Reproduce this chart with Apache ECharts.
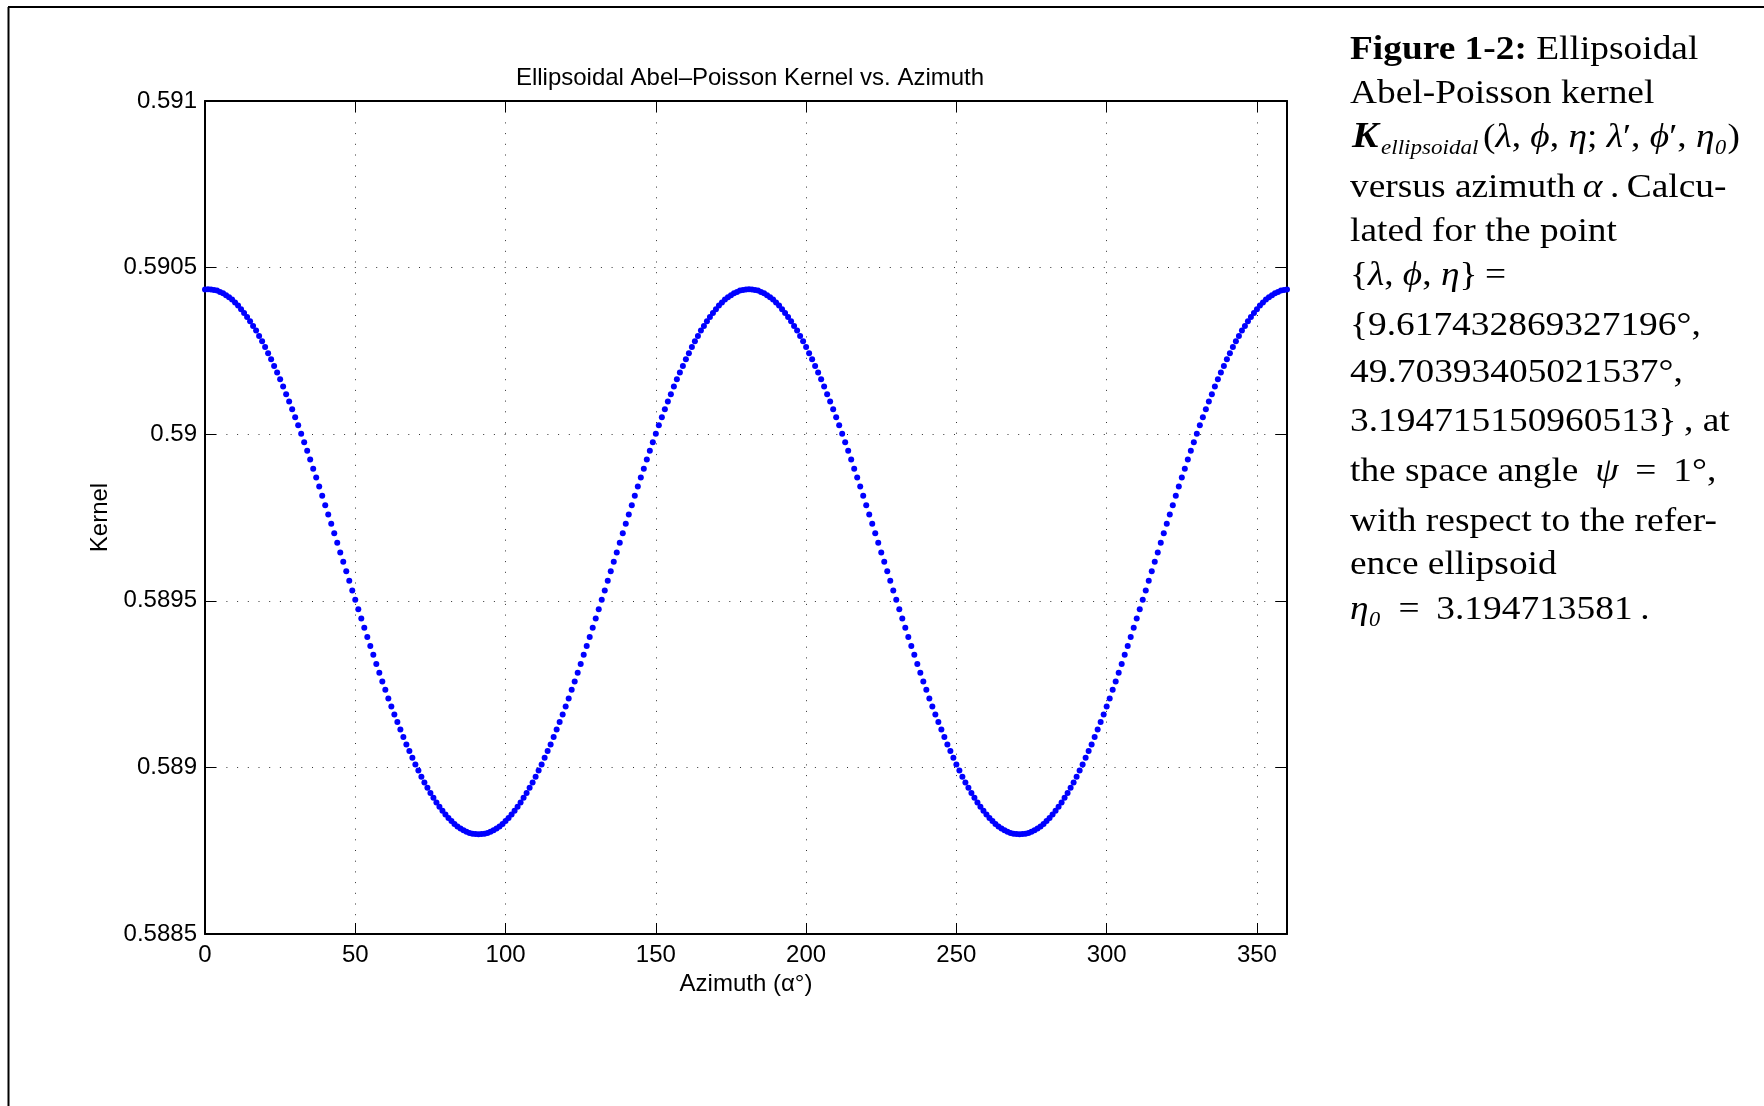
<!DOCTYPE html>
<html>
<head>
<meta charset="utf-8">
<script src="https://cdn.jsdelivr.net/npm/echarts@6/dist/echarts.min.js"></script>
<style>
  html, body { margin: 0; padding: 0; background: #fff; }
  #chart { width: 1764px; height: 1106px; }
</style>
</head>
<body>
<div id="chart"></div>
<script>
// Ellipsoidal Abel–Poisson kernel sampled every degree of azimuth, 0° … 360°
const azimuthStepDeg = 1;
const kernelValues = [
  0.590434, 0.590435, 0.590434, 0.590433, 0.590431, 0.590427, 0.590423, 0.590417, 0.590411, 0.590404,
  0.590395, 0.590386, 0.590375, 0.590364, 0.590352, 0.590339, 0.590325, 0.590311, 0.590295, 0.590279,
  0.590262, 0.590243, 0.590225, 0.590205, 0.590185, 0.590165, 0.590143, 0.590120, 0.590098, 0.590075,
  0.590051, 0.590027, 0.590001, 0.589976, 0.589950, 0.589924, 0.589896, 0.589870, 0.589843, 0.589815,
  0.589787, 0.589759, 0.589731, 0.589703, 0.589674, 0.589645, 0.589617, 0.589589, 0.589560, 0.589531,
  0.589503, 0.589475, 0.589447, 0.589419, 0.589391, 0.589364, 0.589338, 0.589310, 0.589284, 0.589258,
  0.589233, 0.589207, 0.589183, 0.589159, 0.589136, 0.589114, 0.589091, 0.589069, 0.589049, 0.589029,
  0.589009, 0.588991, 0.588972, 0.588955, 0.588939, 0.588923, 0.588909, 0.588895, 0.588882, 0.588870,
  0.588859, 0.588848, 0.588839, 0.588830, 0.588823, 0.588817, 0.588811, 0.588807, 0.588803, 0.588801,
  0.588800, 0.588799, 0.588800, 0.588801, 0.588803, 0.588807, 0.588811, 0.588817, 0.588823, 0.588830,
  0.588839, 0.588848, 0.588859, 0.588870, 0.588882, 0.588895, 0.588909, 0.588923, 0.588939, 0.588955,
  0.588972, 0.588991, 0.589009, 0.589029, 0.589049, 0.589069, 0.589091, 0.589114, 0.589136, 0.589159,
  0.589183, 0.589207, 0.589233, 0.589258, 0.589284, 0.589310, 0.589338, 0.589364, 0.589391, 0.589419,
  0.589447, 0.589475, 0.589503, 0.589531, 0.589560, 0.589589, 0.589617, 0.589645, 0.589674, 0.589703,
  0.589731, 0.589759, 0.589787, 0.589815, 0.589843, 0.589870, 0.589896, 0.589924, 0.589950, 0.589976,
  0.590001, 0.590027, 0.590051, 0.590075, 0.590098, 0.590120, 0.590143, 0.590165, 0.590185, 0.590205,
  0.590225, 0.590243, 0.590262, 0.590279, 0.590295, 0.590311, 0.590325, 0.590339, 0.590352, 0.590364,
  0.590375, 0.590386, 0.590395, 0.590404, 0.590411, 0.590417, 0.590423, 0.590427, 0.590431, 0.590433,
  0.590434, 0.590435, 0.590434, 0.590433, 0.590431, 0.590427, 0.590423, 0.590417, 0.590411, 0.590404,
  0.590395, 0.590386, 0.590375, 0.590364, 0.590352, 0.590339, 0.590325, 0.590311, 0.590295, 0.590279,
  0.590262, 0.590243, 0.590225, 0.590205, 0.590185, 0.590165, 0.590143, 0.590120, 0.590098, 0.590075,
  0.590051, 0.590027, 0.590001, 0.589976, 0.589950, 0.589924, 0.589896, 0.589870, 0.589843, 0.589815,
  0.589787, 0.589759, 0.589731, 0.589703, 0.589674, 0.589645, 0.589617, 0.589589, 0.589560, 0.589531,
  0.589503, 0.589475, 0.589447, 0.589419, 0.589391, 0.589364, 0.589338, 0.589310, 0.589284, 0.589258,
  0.589233, 0.589207, 0.589183, 0.589159, 0.589136, 0.589114, 0.589091, 0.589069, 0.589049, 0.589029,
  0.589009, 0.588991, 0.588972, 0.588955, 0.588939, 0.588923, 0.588909, 0.588895, 0.588882, 0.588870,
  0.588859, 0.588848, 0.588839, 0.588830, 0.588823, 0.588817, 0.588811, 0.588807, 0.588803, 0.588801,
  0.588800, 0.588799, 0.588800, 0.588801, 0.588803, 0.588807, 0.588811, 0.588817, 0.588823, 0.588830,
  0.588839, 0.588848, 0.588859, 0.588870, 0.588882, 0.588895, 0.588909, 0.588923, 0.588939, 0.588955,
  0.588972, 0.588991, 0.589009, 0.589029, 0.589049, 0.589069, 0.589091, 0.589114, 0.589136, 0.589159,
  0.589183, 0.589207, 0.589233, 0.589258, 0.589284, 0.589310, 0.589338, 0.589364, 0.589391, 0.589419,
  0.589447, 0.589475, 0.589503, 0.589531, 0.589560, 0.589589, 0.589617, 0.589645, 0.589674, 0.589703,
  0.589731, 0.589759, 0.589787, 0.589815, 0.589843, 0.589870, 0.589896, 0.589924, 0.589950, 0.589976,
  0.590001, 0.590027, 0.590051, 0.590075, 0.590098, 0.590120, 0.590143, 0.590165, 0.590185, 0.590205,
  0.590225, 0.590243, 0.590262, 0.590279, 0.590295, 0.590311, 0.590325, 0.590339, 0.590352, 0.590364,
  0.590375, 0.590386, 0.590395, 0.590404, 0.590411, 0.590417, 0.590423, 0.590427, 0.590431, 0.590433,
  0.590434
];

// Axis ranges and tick labels
const xRange = [0, 360];
const xTickStep = 50;
const xTickLabels = ['0', '50', '100', '150', '200', '250', '300', '350'];
const yRange = [0.5885, 0.591];
const yTickStep = 0.0005;
const yTickLabels = ['0.5885', '0.589', '0.5895', '0.59', '0.5905', '0.591'];

const chartTitle = 'Ellipsoidal Abel\u2013Poisson Kernel vs. Azimuth';
const xAxisTitle = 'Azimuth (\u03b1\u00b0)';
const yAxisTitle = 'Kernel';

const points = kernelValues.map((k, i) => [i * azimuthStepDeg, k]);

const SANS = 'Liberation Sans, Arial, Helvetica, sans-serif';
const SERIF = 'Liberation Serif, DejaVu Serif, Times New Roman, serif';
const CAP = 34;
const AXIS_FONT = 24;

function xLabel(v) {
  const idx = Math.round(v / xTickStep);
  return (Math.abs(v - idx * xTickStep) < 1e-6 && idx < xTickLabels.length) ? xTickLabels[idx] : '';
}
function yLabel(v) {
  const idx = Math.round((v - yRange[0]) / yTickStep);
  return yTickLabels[idx] || '';
}

const gridLine = { show: true, lineStyle: { color: '#333', width: 1, type: [1, 9.7] } };
const frameLine = { show: true, onZero: false, lineStyle: { color: '#000', width: 2 } };
const innerTick = { show: true, inside: true, length: 11, lineStyle: { color: '#000', width: 1 } };

// caption text, one entry per typeset line
const rich = {
  b: { fontFamily: SERIF, fontSize: CAP, fontWeight: 'bold' },
  i: { fontFamily: SERIF, fontSize: CAP, fontStyle: 'italic' }
};
const captionX = 1348;
const captionScaleX = 1.1;
const captionLines = [
  { y: 50,  t: '{b|Figure 1-2:} Ellipsoidal' },
  { y: 94,  t: 'Abel-Poisson kernel' },
  { y: 188, t: 'versus azimuth\u2009{i|\u03b1}\u2009.\u2009Calcu-' },
  { y: 232, t: 'lated for the point' },
  { y: 276, t: '{{i|\u03bb}, {i|\u03d5}, {i|\u03b7}}\u2009=' },
  { y: 326, t: '{9.617432869327196\u00b0,' },
  { y: 373, t: '49.70393405021537\u00b0,' },
  { y: 422, t: '3.194715150960513}\u2009, at' },
  { y: 472, t: 'the space angle \u2009{i|\u03c8} \u2009= \u20091\u00b0,' },
  { y: 522, t: 'with respect to the refer-' },
  { y: 565, t: 'ence ellipsoid' },
  { y: 610, t: '{i|\u03b7\u2080} \u2009= \u20093.194713581\u2009.' }
];
const loc = (fullX) => (fullX - captionX) / captionScaleX;

const captionChildren = captionLines.map(l => ({
  type: 'text', x: loc(1350), y: l.y,
  style: { text: l.t, rich, fontFamily: SERIF, fontSize: CAP, fill: '#000', verticalAlign: 'middle', align: 'left' }
}));
// K with its subscript and argument list
captionChildren.push(
  { type: 'text', x: loc(1352), y: 138,
    style: { text: 'K', fontFamily: SERIF, fontSize: 36, fontStyle: 'italic', fontWeight: 'bold', fill: '#000', verticalAlign: 'middle' } },
  { type: 'text', x: loc(1381), y: 148,
    style: { text: 'ellipsoidal', fontFamily: SERIF, fontSize: 21, fontStyle: 'italic', fill: '#000', verticalAlign: 'middle' } },
  { type: 'text', x: loc(1483), y: 138,
    style: { text: '({i|\u03bb}, {i|\u03d5}, {i|\u03b7}; {i|\u03bb}\u2032, {i|\u03d5}\u2032, {i|\u03b7\u2080})', rich, fontFamily: SERIF, fontSize: CAP, fill: '#000', verticalAlign: 'middle' } }
);

const chart = echarts.init(document.getElementById('chart'), null, { renderer: 'canvas' });
chart.setOption({
  animation: false,
  backgroundColor: '#fff',
  title: {
    text: chartTitle, left: 750, top: 66, textAlign: 'center', padding: 0,
    textStyle: { fontFamily: SANS, fontSize: AXIS_FONT, fontWeight: 'normal', color: '#000' }
  },
  grid: { left: 205, top: 101, width: 1082, height: 833, containLabel: false },
  xAxis: [
    {
      type: 'value', position: 'bottom', min: xRange[0], max: xRange[1], interval: xTickStep,
      axisLine: frameLine, axisTick: innerTick, splitLine: gridLine,
      axisLabel: { show: true, margin: 9, formatter: xLabel, showMaxLabel: false,
                   fontFamily: SANS, fontSize: AXIS_FONT, color: '#000' },
      name: xAxisTitle, nameLocation: 'middle', nameGap: 37,
      nameTextStyle: { fontFamily: SANS, fontSize: AXIS_FONT, color: '#000' }
    },
    {
      type: 'value', position: 'top', min: xRange[0], max: xRange[1], interval: xTickStep,
      axisLine: frameLine, axisTick: innerTick, splitLine: { show: false },
      axisLabel: { show: false }
    }
  ],
  yAxis: [
    {
      type: 'value', position: 'left', min: yRange[0], max: yRange[1], interval: yTickStep,
      axisLine: frameLine, axisTick: innerTick, splitLine: gridLine,
      axisLabel: { show: true, margin: 8, lineHeight: 30, verticalAlign: 'middle', padding: [6, 0, 0, 0],
                   formatter: yLabel, fontFamily: SANS, fontSize: AXIS_FONT, color: '#000' },
      name: yAxisTitle, nameLocation: 'middle', nameGap: 84,
      nameTextStyle: { fontFamily: SANS, fontSize: AXIS_FONT, color: '#000' }
    },
    {
      type: 'value', position: 'right', min: yRange[0], max: yRange[1], interval: yTickStep,
      axisLine: frameLine, axisTick: innerTick, splitLine: { show: false },
      axisLabel: { show: false }
    }
  ],
  series: [{
    type: 'scatter',
    xAxisIndex: 0, yAxisIndex: 0,
    data: points,
    symbol: 'circle',
    symbolSize: 6,
    itemStyle: { color: '#0000ff', opacity: 1 },
    clip: false
  }],
  graphic: [
    // page frame (left and top edges)
    { type: 'line', shape: { x1: 8.5, y1: 7, x2: 8.5, y2: 1106 }, style: { stroke: '#000', lineWidth: 2 } },
    { type: 'line', shape: { x1: 8, y1: 7, x2: 1764, y2: 7 }, style: { stroke: '#000', lineWidth: 2 } },
    { type: 'group', x: captionX, y: 0, scaleX: captionScaleX, children: captionChildren }
  ]
});
</script>
</body>
</html>
